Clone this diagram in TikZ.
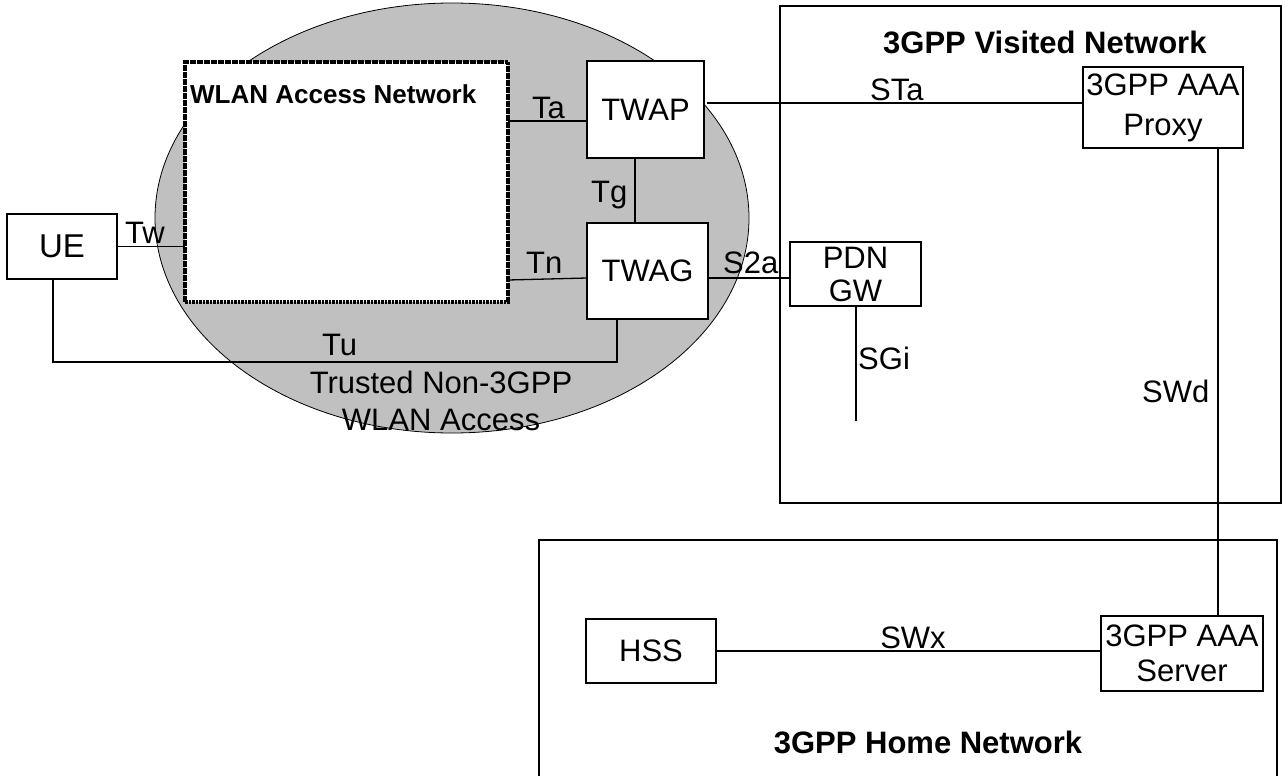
\documentclass[tikz,border=0pt]{standalone}
\usepackage{fontspec}
\setmainfont{Liberation Sans}
\usetikzlibrary{calc,shapes.geometric}
\newcommand\lblfont{\fontsize{31}{36}\selectfont}
\newcommand\ttlfont{\fontsize{31}{36}\selectfont\bfseries}
\newcommand\smttlfont{\fontsize{26}{30}\selectfont\bfseries}
\definecolor{areagray}{HTML}{C0C0C0}
\begin{document}
\begin{tikzpicture}[x=1pt,y=-1pt,
  box/.style={draw, line width=1.5pt, fill=white, inner sep=0pt, outer sep=0pt,
              align=center, font=\lblfont},
  area/.style={draw, line width=1.6pt, inner sep=0pt, outer sep=0pt},
  link/.style={line width=1.3pt},
  lab/.style={anchor=base west, inner sep=0pt, font=\lblfont},
  labc/.style={anchor=base, inner sep=0pt, font=\lblfont}]
\useasboundingbox (0,0) rectangle (1285,776);
\fill[white] (0,0) rectangle (1285,776);

% network domains
\node[area, minimum width=501, minimum height=497] (visited) at (1030.5,254.5) {};
\node[area, minimum width=738, minimum height=250] (home) at (908,665) {};
\node[anchor=base west, inner sep=0pt, font=\ttlfont] (visitedlbl) at (883,54) {3GPP Visited Network};
\node[anchor=base, inner sep=0pt, font=\ttlfont] (homelbl) at (928,753) {3GPP Home Network};

% trusted non-3GPP access area
\node[ellipse, draw, line width=0.8pt, fill=areagray, inner sep=0pt,
      minimum width=594, minimum height=430] (trusted) at (452,218) {};
\node[draw, line width=3.2pt, dash pattern=on 2.6pt off 0.9pt, fill=white, inner sep=0pt, outer sep=0pt,
      minimum width=323, minimum height=240] (wlan) at (346.5,182) {};
\node[anchor=base west, inner sep=0pt, font=\smttlfont] (wlanlbl) at (190,103) {WLAN Access Network};

% functional entities
\node[box, minimum width=110, minimum height=65, font=\fontsize{33}{36}\selectfont] (ue) at (62,246.5) {UE};
\node[box, minimum width=117, minimum height=97] (twap) at (645.5,109.5) {TWAP};
\node[box, minimum width=121, minimum height=96] (twag) at (647.5,271) {TWAG};
\node[box, minimum width=131, minimum height=64, font=\fontsize{31}{33}\selectfont] (pdn) at (855.5,274) {PDN\\GW};
\node[box, minimum width=160, minimum height=81, font=\fontsize{31}{40}\selectfont] (proxy) at (1163,107.5) {3GPP AAA\\Proxy};
\node[box, minimum width=162, minimum height=75, font=\fontsize{31}{35}\selectfont] (server) at (1182,653.5) {3GPP AAA\\Server};
\node[box, minimum width=130, minimum height=64] (hss) at (651,651) {HSS};

% attachment points of the reference points
\coordinate (taA)  at ($(twap.west)+(0,11.5)$);
\coordinate (tgA)  at ($(twap.south)+(-10.5,0)$);
\coordinate (tnA)  at ($(wlan.east)+(0,98)$);
\coordinate (tnB)  at ($(twag.west)+(0,7)$);
\coordinate (s2aA) at ($(twag.east)+(0,7)$);
\coordinate (staA) at ($(twap.east)+(3,-6.5)$);
\coordinate (sgiA) at (856,306);
\coordinate (sgiend) at (856,421);
\coordinate (swdA) at ($(proxy.south)+(55,0)$);
\coordinate (tuA)  at ($(ue.south)+(-9,0)$);
\coordinate (tuB)  at ($(twag.south)+(-30.5,0)$);
\coordinate (tuC)  at ($(twag.south)+(-30.5,43)$);

% reference points
\draw[link] (ue.east) -- (ue.east -| wlan.west);
\draw[link] (taA) -- (taA -| wlan.east);
\draw[link] (tgA) -- (tgA |- twag.north);
\draw[link] (tnA) -- (tnB);
\draw[link] (s2aA) -- (s2aA -| pdn.west);
\draw[link] (staA) -- (staA -| proxy.west);
\draw[link] (sgiA) -- (sgiend);
\draw[link] (swdA) -- (swdA |- server.north);
\draw[link] (hss.east) -- (hss.east -| server.west);
\draw[link] (tuA) |- (tuC) -- (tuB);

% interface labels
\node[lab] (tw) at (125,243) {Tw};
\node[lab] (ta) at (532,118) {Ta};
\node[lab] (tg) at (591,202) {Tg};
\node[lab] (tn) at (526,273) {Tn};
\node[lab] (s2a) at (723,273) {S2a};
\node[lab] (sta) at (870,100) {STa};
\node[lab] (sgi) at (858,369) {SGi};
\node[lab] (swd) at (1142,402) {SWd};
\node[labc] (swx) at (913,648) {SWx};
\node[lab] (tu) at (322,355) {Tu};
\node[labc] (trusted1) at (441,393) {Trusted Non-3GPP};
\node[labc] (trusted2) at (441,430) {WLAN Access};
\end{tikzpicture}
\end{document}
